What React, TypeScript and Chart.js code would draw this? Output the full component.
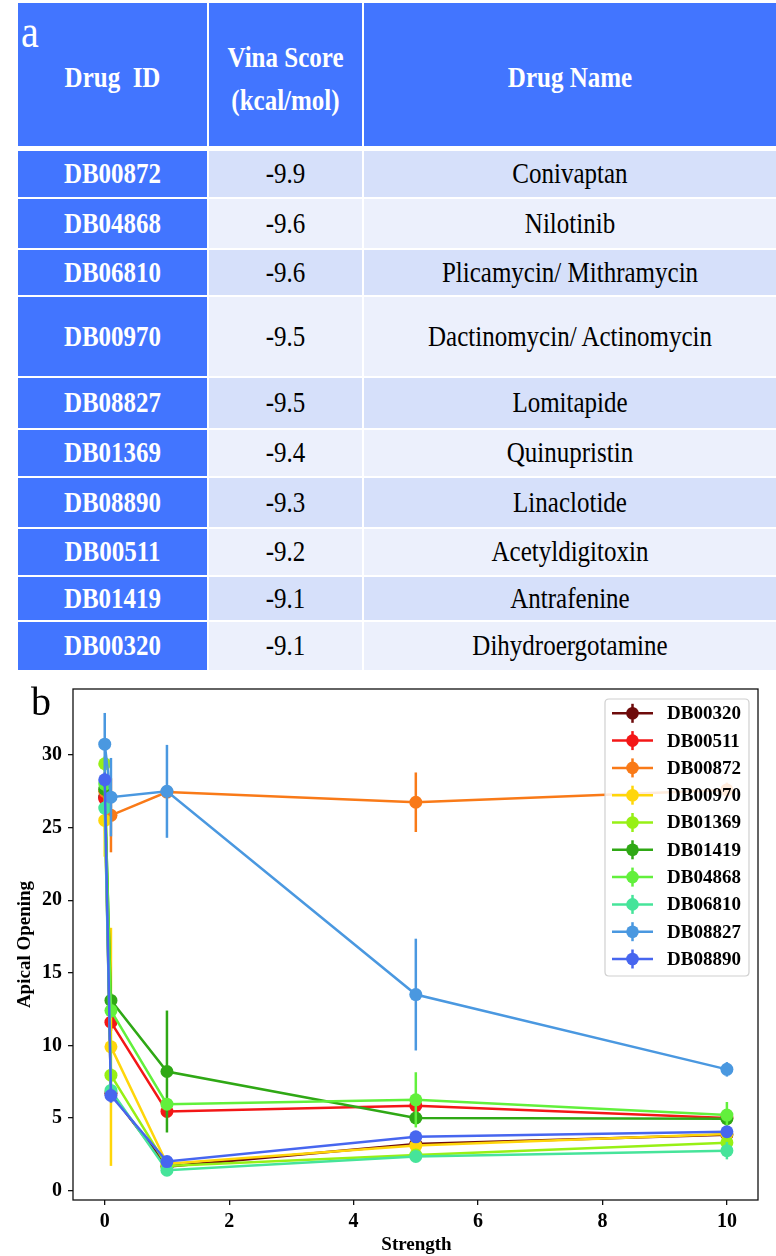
import React, { useEffect, useRef } from "react";
import { Chart, registerables } from "chart.js";

Chart.register(...registerables);

// ---------- Table (a) data ----------
const drugIds = ["DB00872", "DB04868", "DB06810", "DB00970", "DB08827", "DB01369", "DB08890", "DB00511", "DB01419", "DB00320"];
const vinaScores = ["-9.9", "-9.6", "-9.6", "-9.5", "-9.5", "-9.4", "-9.3", "-9.2", "-9.1", "-9.1"];
const drugNames = [
  "Conivaptan",
  "Nilotinib",
  "Plicamycin/ Mithramycin",
  "Dactinomycin/ Actinomycin",
  "Lomitapide",
  "Quinupristin",
  "Linaclotide",
  "Acetyldigitoxin",
  "Antrafenine",
  "Dihydroergotamine",
];

// ---------- Chart (b) data ----------
const strengths = [0, 0.1, 1, 5, 10];
const seriesNames = ["DB00320", "DB00511", "DB00872", "DB00970", "DB01369", "DB01419", "DB04868", "DB06810", "DB08827", "DB08890"];
const seriesColors = ["#6e0b0b", "#f31717", "#f97a18", "#ffd60a", "#97f015", "#2fa815", "#62f03c", "#46e49a", "#4a98e0", "#4766ef"];

const DB00320 = [27.1, 6.7, 1.65, 3.2, 3.85];
const DB00511 = [27.0, 11.6, 5.45, 5.85, 5.0];
const DB00872 = [27.5, 25.85, 27.45, 26.75, 27.6];
const DB00970 = [25.5, 9.9, 1.85, 3.1, 3.9];
const DB01369 = [29.4, 7.95, 1.7, 2.45, 3.3];
const DB01419 = [27.65, 13.1, 8.2, 5.0, 4.95];
const DB04868 = [28.0, 12.4, 5.95, 6.25, 5.2];
const DB06810 = [26.35, 6.9, 1.4, 2.35, 2.75];
const DB08827 = [30.75, 27.1, 27.5, 13.5, 8.35];
const DB08890 = [28.3, 6.55, 2.0, 3.7, 4.05];

const errDB00320 = [0.5, 0.5, 0.3, 0.3, 0.3];
const errDB00511 = [0.5, 0.6, 0.4, 0.4, 0.3];
const errDB00872 = [0.5, 2.55, 0.4, 2.05, 0.5];
const errDB00970 = [2.5, 8.2, 0.3, 0.3, 0.3];
const errDB01369 = [0.5, 0.5, 0.3, 0.3, 0.3];
const errDB01419 = [0.5, 0.5, 4.2, 0.4, 0.3];
const errDB04868 = [0.5, 0.5, 0.4, 1.9, 0.9];
const errDB06810 = [0.5, 0.5, 0.3, 0.3, 0.6];
const errDB08827 = [2.15, 2.7, 3.2, 3.85, 0.5];
const errDB08890 = [0.5, 0.5, 0.3, 0.3, 0.3];

const xTicks = [0, 2, 4, 6, 8, 10];
const yTicks = [0, 5, 10, 15, 20, 25, 30];

const seriesValues = [DB00320, DB00511, DB00872, DB00970, DB01369, DB01419, DB04868, DB06810, DB08827, DB08890];
const seriesErrors = [errDB00320, errDB00511, errDB00872, errDB00970, errDB01369, errDB01419, errDB04868, errDB06810, errDB08827, errDB08890];

// ---------- layout ----------
const SERIF = '"Liberation Serif", "Times New Roman", serif';
const BLUE = "#4275ff";
const ROW_DARK = "#d6e0fa";
const ROW_LIGHT = "#ecf0fc";
const cols: [number, number][] = [
  [18, 207],
  [209, 362],
  [364, 776],
];
const rowTops = [151, 199, 250, 297, 378, 430, 478, 529, 577, 622];
const rowBottoms = [197, 248, 295, 376, 428, 476, 527, 575, 620, 670];

const errorBarPlugin = {
  id: "errorBars",
  beforeDatasetDraw(chart: any, args: any) {
    const i = args.index;
    const xs = chart.scales.x;
    const ys = chart.scales.y;
    const ctx = chart.ctx;
    const ca = chart.chartArea;
    ctx.save();
    ctx.beginPath();
    ctx.rect(ca.left, ca.top, ca.right - ca.left, ca.bottom - ca.top);
    ctx.clip();
    ctx.strokeStyle = seriesColors[i];
    ctx.lineWidth = 2.5;
    seriesValues[i].forEach((v, j) => {
      const e = seriesErrors[i][j];
      const px = xs.getPixelForValue(strengths[j]);
      ctx.beginPath();
      ctx.moveTo(px, ys.getPixelForValue(v - e));
      ctx.lineTo(px, ys.getPixelForValue(v + e));
      ctx.stroke();
    });
    ctx.restore();
  },
  afterDraw(chart: any) {
    const ctx = chart.ctx;
    const ca = chart.chartArea;
    ctx.save();
    // spines
    ctx.strokeStyle = "#111";
    ctx.lineWidth = 1.3;
    ctx.strokeRect(ca.left, ca.top, ca.right - ca.left, ca.bottom - ca.top);

    // legend
    const lx0 = 605, lx1 = 749, ly0 = 29, ly1 = 306;
    const r = 4;
    ctx.beginPath();
    ctx.moveTo(lx0 + r, ly0);
    ctx.lineTo(lx1 - r, ly0);
    ctx.quadraticCurveTo(lx1, ly0, lx1, ly0 + r);
    ctx.lineTo(lx1, ly1 - r);
    ctx.quadraticCurveTo(lx1, ly1, lx1 - r, ly1);
    ctx.lineTo(lx0 + r, ly1);
    ctx.quadraticCurveTo(lx0, ly1, lx0, ly1 - r);
    ctx.lineTo(lx0, ly0 + r);
    ctx.quadraticCurveTo(lx0, ly0, lx0 + r, ly0);
    ctx.closePath();
    ctx.fillStyle = "rgba(255,255,255,0.85)";
    ctx.fill();
    ctx.strokeStyle = "#d0d0d0";
    ctx.lineWidth = 1.2;
    ctx.stroke();

    ctx.font = `bold 19px ${SERIF}`;
    ctx.textBaseline = "middle";
    ctx.textAlign = "left";
    seriesNames.forEach((name, i) => {
      const y = 43.3 + i * 27.3;
      ctx.strokeStyle = seriesColors[i];
      ctx.fillStyle = seriesColors[i];
      ctx.lineWidth = 2.5;
      ctx.beginPath();
      ctx.moveTo(612, y);
      ctx.lineTo(653, y);
      ctx.stroke();
      ctx.beginPath();
      ctx.moveTo(632.5, y - 9.5);
      ctx.lineTo(632.5, y + 9.5);
      ctx.stroke();
      ctx.beginPath();
      ctx.arc(632.5, y, 6.3, 0, Math.PI * 2);
      ctx.fill();
      ctx.fillStyle = "#000";
      ctx.fillText(name, 667, y + 1);
    });

    // axis titles
    ctx.fillStyle = "#000";
    ctx.font = `bold 19px ${SERIF}`;
    ctx.textAlign = "center";
    ctx.textBaseline = "middle";
    ctx.fillText("Strength", (ca.left + ca.right) / 2 + 1, 575);
    ctx.translate(25, (ca.top + ca.bottom) / 2);
    ctx.rotate(-Math.PI / 2);
    ctx.fillText("Apical Opening", 0, 0);
    ctx.restore();
  },
};

function ChartPanel() {
  const ref = useRef<HTMLCanvasElement | null>(null);
  useEffect(() => {
    if (!ref.current) return;
    const n = seriesNames.length;
    const chart = new Chart(ref.current, {
      type: "line",
      data: {
        datasets: seriesNames.map((name, i) => ({
          label: name,
          data: seriesValues[i].map((v, j) => ({ x: strengths[j], y: v })),
          borderColor: seriesColors[i],
          backgroundColor: seriesColors[i],
          borderWidth: 2.5,
          pointRadius: 6.5,
          pointHoverRadius: 6.5,
          pointBorderWidth: 0,
          pointBackgroundColor: seriesColors[i],
          tension: 0,
          order: n - i,
        })),
      },
      options: {
        animation: false,
        responsive: false,
        maintainAspectRatio: false,
        devicePixelRatio: 1,
        events: [],
        layout: { padding: { top: 19, right: 18, left: 0, bottom: 0 } },
        plugins: { legend: { display: false }, tooltip: { enabled: false } },
        scales: {
          x: {
            type: "linear",
            min: -0.51,
            max: 10.5,
            afterBuildTicks: (axis: any) => {
              axis.ticks = xTicks.map((v) => ({ value: v }));
            },
            afterFit: (axis: any) => {
              axis.height = 56;
            },
            ticks: {
              color: "#000",
              font: { family: SERIF, size: 20, weight: "bold" },
              padding: 5,
              maxRotation: 0,
              callback: (v: any) => String(v),
            },
            grid: { display: true, drawOnChartArea: false, drawTicks: true, tickLength: 5, color: "#111", lineWidth: 1.3 },
            border: { display: false },
          },
          y: {
            type: "linear",
            min: -0.65,
            max: 34.55,
            afterBuildTicks: (axis: any) => {
              axis.ticks = yTicks.map((v) => ({ value: v }));
            },
            afterFit: (axis: any) => {
              axis.width = 73;
            },
            ticks: {
              color: "#000",
              font: { family: SERIF, size: 20, weight: "bold" },
              padding: 6,
              callback: (v: any) => String(v),
            },
            grid: { display: true, drawOnChartArea: false, drawTicks: true, tickLength: 5, color: "#111", lineWidth: 1.3 },
            border: { display: false },
          },
        },
      } as any,
      plugins: [errorBarPlugin],
    });
    return () => chart.destroy();
  }, []);
  return (
    <canvas
      ref={ref}
      width={776}
      height={586}
      style={{ position: "absolute", left: 0, top: 670, width: 776, height: 586 }}
    />
  );
}

function cellStyle(x0: number, x1: number, y0: number, y1: number, bg: string): React.CSSProperties {
  return {
    position: "absolute",
    left: x0,
    top: y0,
    width: x1 - x0,
    height: y1 - y0,
    background: bg,
    display: "flex",
    alignItems: "center",
    justifyContent: "center",
    textAlign: "center",
    fontFamily: SERIF,
    fontSize: 25,
  };
}

const tall: React.CSSProperties = { display: "inline-block", transform: "scaleY(1.15)" };

export default function App() {
  return (
    <div style={{ position: "absolute", left: 0, top: 0, width: 776, height: 1256, background: "#fff", overflow: "hidden" }}>
      {/* header */}
      <div style={{ ...cellStyle(cols[0][0], cols[0][1], 3, 146, BLUE), color: "#fff", fontWeight: "bold", paddingTop: 7, boxSizing: "border-box" }}>
        <span style={tall}>Drug&nbsp;&nbsp;ID</span>
      </div>
      <div
        style={{
          ...cellStyle(cols[1][0], cols[1][1], 3, 146, BLUE),
          color: "#fff",
          fontWeight: "bold",
          flexDirection: "column",
          lineHeight: "43px",
          paddingTop: 8,
          boxSizing: "border-box",
        }}
      >
        <div style={tall}>Vina Score</div>
        <div style={tall}>(kcal/mol)</div>
      </div>
      <div style={{ ...cellStyle(cols[2][0], cols[2][1], 3, 146, BLUE), color: "#fff", fontWeight: "bold", paddingTop: 7, boxSizing: "border-box" }}>
        <span style={tall}>Drug Name</span>
      </div>
      <div style={{ position: "absolute", left: 21, top: 12, fontFamily: SERIF, fontSize: 40, lineHeight: "40px", color: "#fff" }}>
        <span style={tall}>a</span>
      </div>

      {drugIds.map((id, i) => {
        const bg = i % 2 === 0 ? ROW_DARK : ROW_LIGHT;
        const y0 = rowTops[i];
        const y1 = rowBottoms[i];
        return (
          <React.Fragment key={id}>
            <div style={{ ...cellStyle(cols[0][0], cols[0][1], y0, y1, BLUE), color: "#fff", fontWeight: "bold" }}>
              <span style={tall}>{id}</span>
            </div>
            <div style={{ ...cellStyle(cols[1][0], cols[1][1], y0, y1, bg), color: "#000" }}>
              <span style={tall}>{vinaScores[i]}</span>
            </div>
            <div style={{ ...cellStyle(cols[2][0], cols[2][1], y0, y1, bg), color: "#000" }}>
              <span style={tall}>{drugNames[i]}</span>
            </div>
          </React.Fragment>
        );
      })}

      <ChartPanel />
      <div style={{ position: "absolute", left: 31, top: 682, fontFamily: SERIF, fontSize: 40, lineHeight: "40px", color: "#000", zIndex: 2 }}>b</div>
    </div>
  );
}
